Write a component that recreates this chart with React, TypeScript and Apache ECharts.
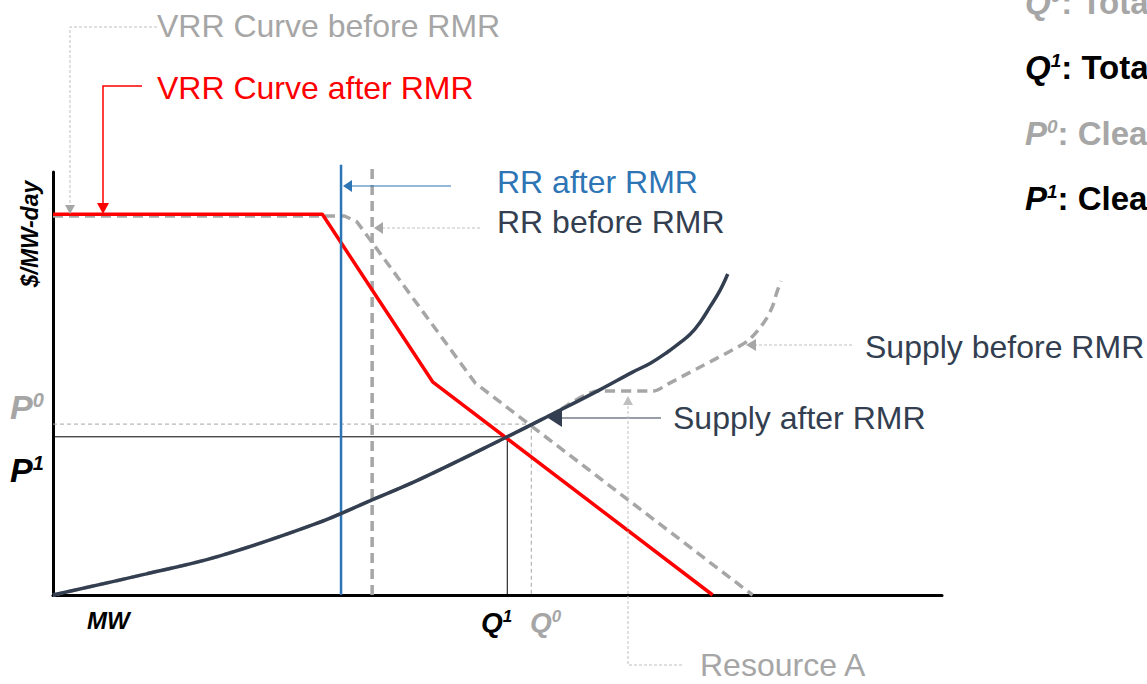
import React, { useEffect, useRef } from "react";
import * as echarts from "echarts";

// ---- Data (x: MW units 0..100, y: $/MW-day units 0..100) ----
const vrrAfter: number[][] = [[0, 90], [30.3, 90], [42.7, 50.4], [74.2, 0]];
const vrrBefore: number[][] = [[0, 89.6], [32.8, 89.6], [34.2, 88.2], [47.5, 50.1], [78.7, 0]];
const supplyAfter: number[][] = [
  [0, 0], [10.5, 5.0], [18.7, 9.2], [29.5, 16.8], [35.9, 22.5], [41.3, 27.4], [51.1, 37.4],
  [56.2, 42.8], [61.5, 48.5], [65.2, 52.7], [67.2, 54.8], [69.1, 57.4], [70.5, 59.6],
  [71.7, 61.7], [72.8, 64.5], [73.9, 68.1], [75.0, 71.9], [75.9, 75.9],
];
const supplyBefore: number[][] = [
  [0, 0], [10.5, 5.0], [18.7, 9.2], [29.5, 16.8], [35.9, 22.5], [41.3, 27.4], [51.1, 37.4],
  [56.2, 42.8], [61.5, 48.2], [67.5, 48.2], [69.2, 49.9], [70.9, 51.8], [72.8, 53.9],
  [74.7, 56.0], [76.4, 57.9], [78.1, 60.0], [79.3, 62.6], [80.3, 65.5], [81.0, 68.6],
  [81.4, 71.4], [81.9, 74.2],
];
const rrAfter = 32.4;
const rrBefore = 35.9;
const lineTop = 101.7;
const q1 = 51.1;
const p1 = 37.4;
const q0 = 53.8;
const p0 = 40.4;

const legendRows = [
  { sym: "Q", sup: "0", text: ": Tota", color: "#A6A6A6" },
  { sym: "Q", sup: "1", text: ": Tota", color: "#000000" },
  { sym: "P", sup: "0", text: ": Clea", color: "#A6A6A6" },
  { sym: "P", sup: "1", text: ": Clea", color: "#000000" },
];

const FONT = "'Liberation Sans', Arial, sans-serif";
const GRAY = "#A6A6A6";
const LIGHT = "#BFBFBF";
const RED = "#FF0000";
const BLUE = "#2E75B6";
const DARK = "#333F50";

function label(text: string, x: number, y: number, color: string, size = 32, extra: any = {}) {
  return {
    type: "text",
    x,
    y,
    style: { text, fill: color, font: `${size}px ${FONT}`, verticalAlign: "middle", align: "left", ...extra },
    z: 10,
  };
}

function supLabel(sym: string, sup: string, x: number, y: number, color: string, size: number, supSize: number, rest = "") {
  const rich: any = {
    m: { fontSize: size, fontWeight: "bold", fontStyle: "italic", fontFamily: FONT, fill: color },
    s: { fontSize: supSize, fontStyle: "italic", fontWeight: "bold", fontFamily: FONT, fill: color, verticalAlign: "top" },
    n: { fontSize: size, fontWeight: "bold", fontFamily: FONT, fill: color },
  };
  return {
    type: "text",
    x,
    y,
    z: 10,
    style: {
      text: `{m|${sym}}{s|${sup}}` + (rest ? `{n|${rest}}` : ""),
      rich,
      verticalAlign: "middle",
      align: "left",
    },
  };
}

function arrow(pts: number[][], color: string) {
  return { type: "polygon", shape: { points: pts }, style: { fill: color }, z: 9 };
}
function leader(pts: number[][], color: string, width = 1, dash: any = null) {
  return {
    type: "polyline",
    shape: { points: pts },
    style: { stroke: color, lineWidth: width, fill: "none", lineDash: dash },
    z: 9,
  };
}

export default function App() {
  const ref = useRef<HTMLDivElement>(null);
  useEffect(() => {
    if (!ref.current) return;
    const chart = echarts.init(ref.current, null, { renderer: "svg" });
    const axisCommon = {
      type: "value",
      min: 0,
      max: 100,
      axisLine: { show: true, onZero: false, lineStyle: { color: "#000", width: 3 } },
      axisTick: { show: false },
      axisLabel: { show: false },
      splitLine: { show: false },
    };
    const graphic: any[] = [
      // VRR before leader
      leader([[157, 27], [70, 27], [70, 205]], LIGHT, 1, [3, 2]),
      arrow([[65, 205], [75, 205], [70, 214]], GRAY),
      label("VRR Curve before RMR", 157, 26, GRAY),
      // VRR after leader
      leader([[142, 86], [103, 86], [103, 204]], RED, 1.5),
      arrow([[97, 203], [109, 203], [103, 214]], RED),
      label("VRR Curve after RMR", 157, 88, RED),
      // RR after
      leader([[451, 186], [352, 186]], BLUE, 1.2),
      arrow([[352, 180], [352, 192], [343, 186]], BLUE),
      label("RR after RMR", 497, 182, BLUE),
      // RR before
      leader([[480, 228], [383, 228]], LIGHT, 1, [3, 2]),
      arrow([[383, 222], [383, 234], [374, 228]], GRAY),
      label("RR before RMR", 497, 222, DARK),
      // Supply before
      leader([[852, 345], [756, 345]], LIGHT, 1, [3, 2]),
      arrow([[756, 339], [756, 351], [746, 345]], GRAY),
      label("Supply before RMR", 865, 347, DARK),
      // Supply after
      leader([[661, 418], [561, 418]], DARK, 1.2),
      arrow([[562, 409], [562, 427], [548, 418]], DARK),
      label("Supply after RMR", 673, 418, DARK),
      // Resource A
      leader([[682, 665], [628, 665], [628, 405]], LIGHT, 1, [3, 2]),
      arrow([[623, 405], [633, 405], [628, 396]], LIGHT),
      label("Resource A", 700, 665, GRAY),
      // axis labels
      {
        type: "text",
        x: 30,
        y: 234,
        rotation: Math.PI / 2,
        z: 10,
        style: {
          text: "$/MW-day",
          fill: "#000",
          font: `italic bold 23px ${FONT}`,
          align: "center",
          verticalAlign: "middle",
        },
      },
      label("MW", 87, 620, "#000", 24, { font: `italic bold 24px ${FONT}` }),
      supLabel("P", "0", 10, 407, GRAY, 34, 20),
      supLabel("P", "1", 10, 470, "#000", 34, 20),
      supLabel("Q", "1", 481, 622, "#000", 28, 17),
      supLabel("Q", "0", 530, 622, GRAY, 28, 17),
    ];
    legendRows.forEach((r, i) => {
      graphic.push(supLabel(r.sym, r.sup, 1025, 2 + i * 65.5, r.color, 33, 19, r.text));
    });

    const lineSeries = (data: number[][], color: string, width: number, type: any = "solid", smooth: any = false) => ({
      type: "line",
      data,
      symbol: "none",
      smooth,
      clip: false,
      silent: true,
      lineStyle: { color, width, type },
    });

    chart.setOption({
      animation: false,
      backgroundColor: "#ffffff",
      grid: { left: 53, right: 205, top: 172, bottom: 89, containLabel: false },
      xAxis: axisCommon,
      yAxis: axisCommon,
      graphic,
      series: [
        lineSeries([[0, p0], [q0, p0], [q0, 0]], GRAY, 1, [4, 3]),
        lineSeries([[0, p1], [q1, p1], [q1, 0]], "#000", 1),
        lineSeries(vrrBefore, GRAY, 3.5, [10, 6]),
        lineSeries([[rrBefore, 0], [rrBefore, lineTop]], GRAY, 3.5, [10, 6]),
        lineSeries(supplyBefore, GRAY, 3.5, [10, 6], 0.3),
        lineSeries(vrrAfter, RED, 3.5),
        lineSeries([[rrAfter, 0], [rrAfter, lineTop]], BLUE, 2.5),
        lineSeries(supplyAfter, DARK, 3.5, "solid", 0.4),
      ],
    });
    return () => chart.dispose();
  }, []);
  return (
    <div
      ref={ref}
      style={{ width: 1147, height: 684, position: "absolute", left: 0, top: 0, background: "#fff" }}
    />
  );
}
